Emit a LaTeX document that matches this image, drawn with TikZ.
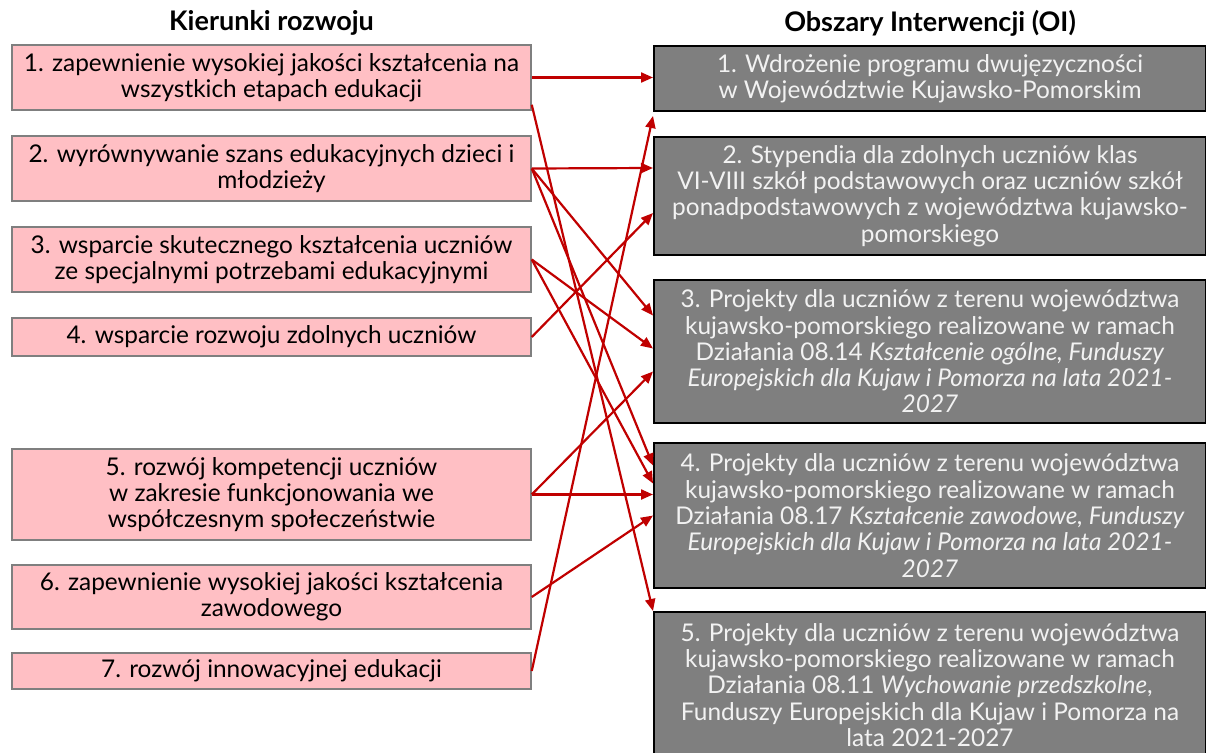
\documentclass[tikz,border=0pt]{standalone}
\usepackage{fontspec}
\setmainfont{Lato}
\usetikzlibrary{arrows.meta}
\definecolor{kpink}{RGB}{255,191,196}
\definecolor{kgray}{RGB}{127,127,127}
\definecolor{kred}{RGB}{192,0,0}
\tikzstyle{kier}=[draw=kgray,line width=1.5pt,fill=kpink,align=center,minimum width=519pt,inner sep=0pt,font=\fontsize{24.4}{26.3}\selectfont]
\tikzstyle{obsz}=[draw=black,line width=2pt,fill=kgray,text=white!95!black,align=center,minimum width=552pt,inner sep=0pt,font=\fontsize{24.4}{26.3}\selectfont]
\tikzstyle{naglowek}=[font=\fontsize{27}{30}\selectfont\bfseries]
\tikzstyle{strz}=[draw=kred,line width=2.2pt,-{Triangle[length=12pt,width=10pt]}]

\begin{document}
\begin{tikzpicture}[x=1pt,y=-1pt]
    \useasboundingbox (0,0) rectangle (1206,752);
    \node[naglowek] (tk) at (271.5,23) {Kierunki rozwoju};
    \node[naglowek] (to) at (930,23) {Obszary Interwencji (OI)};

    \node[kier,minimum height=65pt] (L1) at (271.5,77.5) {1. zapewnienie wysokiej jakości kształcenia na\\wszystkich etapach edukacji};
    \node[kier,minimum height=65pt] (L2) at (271.5,168.5) {2. wyrównywanie szans edukacyjnych dzieci i\\młodzieży};
    \node[kier,minimum height=65pt] (L3) at (271.5,259.5) {3. wsparcie skutecznego kształcenia uczniów\\ze specjalnymi potrzebami edukacyjnymi};
    \node[kier,minimum height=38pt] (L4) at (271.5,337) {4. wsparcie rozwoju zdolnych uczniów};
    \node[kier,minimum height=91pt] (L5) at (271.5,494.5) {5. rozwój kompetencji uczniów\\w zakresie funkcjonowania we\\współczesnym społeczeństwie};
    \node[kier,minimum height=64pt] (L6) at (271.5,597) {6. zapewnienie wysokiej jakości kształcenia\\zawodowego};
    \node[kier,minimum height=36pt] (L7) at (271.5,671) {7. rozwój innowacyjnej edukacji};

    \node[obsz,minimum height=65pt] (R1) at (930,78.5) {1. Wdrożenie programu dwujęzyczności\\w Województwie Kujawsko-Pomorskim};
    \node[obsz,minimum height=118pt] (R2) at (930,196) {2. Stypendia dla zdolnych uczniów klas\\VI-VIII szkół podstawowych oraz uczniów szkół\\ponadpodstawowych z województwa kujawsko-\\pomorskiego};
    \node[obsz,minimum height=143pt] (R3) at (930,351.5) {3. Projekty dla uczniów z terenu województwa\\kujawsko-pomorskiego realizowane w ramach\\Działania 08.14 \textit{Kształcenie ogólne, Funduszy}\\\textit{Europejskich dla Kujaw i Pomorza na lata 2021-}\\\textit{2027}};
    \node[obsz,minimum height=145pt] (R4) at (930,515.5) {4. Projekty dla uczniów z terenu województwa\\kujawsko-pomorskiego realizowane w ramach\\Działania 08.17 \textit{Kształcenie zawodowe, Funduszy}\\\textit{Europejskich dla Kujaw i Pomorza na lata 2021-}\\\textit{2027}};
    \node[obsz,minimum height=146pt] (R5) at (930,685) {5. Projekty dla uczniów z terenu województwa\\kujawsko-pomorskiego realizowane w ramach\\Działania 08.11 \textit{Wychowanie przedszkolne},\\Funduszy Europejskich dla Kujaw i Pomorza na\\lata 2021-2027};

    \foreach \from/\to/\dy in {L1/R1/1,L2/R2/28,L2/R3/36,L2/R4/50,L3/R3/3,L3/R4/32,L4/R2/-17,L5/R3/-20,L5/R4/21,L6/R4/0}
    \draw[strz] (\from.east) -- ([yshift=\dy pt]\to.west);
    \draw[strz] ([yshift=6pt]L1.south east) -- (R5.north west);
    \draw[strz] (L7.east) -- ([yshift=-4pt]R1.south west);
\end{tikzpicture}
\end{document}
